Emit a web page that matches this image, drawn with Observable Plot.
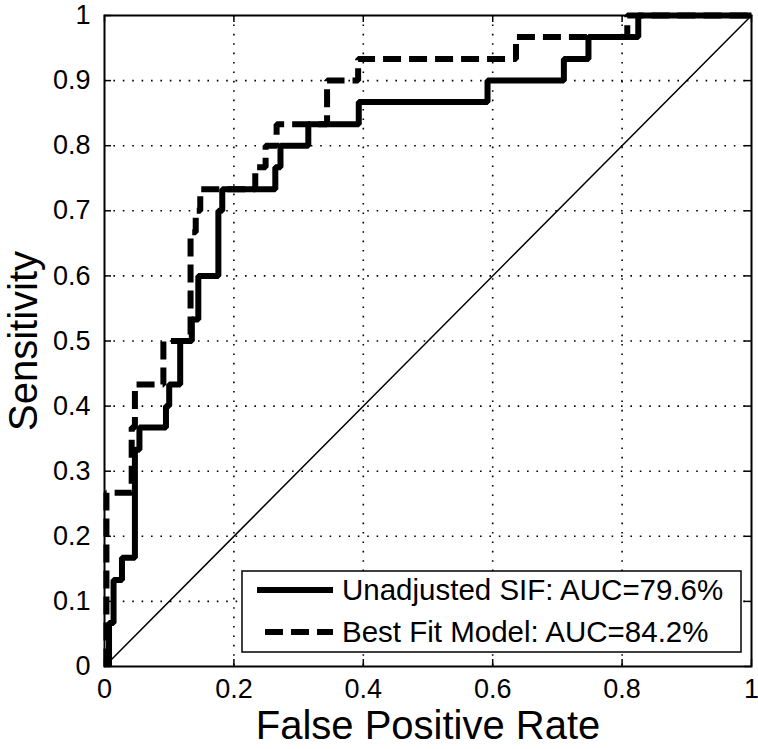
<!DOCTYPE html>
<html><head><meta charset="utf-8">
<script src="https://cdn.jsdelivr.net/npm/d3@7"></script>
<script src="https://cdn.jsdelivr.net/npm/@observablehq/plot@0.6"></script>
<style>
body{margin:0;background:#fff}
svg text{font-family:"Liberation Sans",Arial,sans-serif}
</style>
</head><body><div id="chart"></div>
<script>
// ---- data ----
const xTicks = [0, 0.2, 0.4, 0.6, 0.8, 1];
const xTickLabels = ["0", "0.2", "0.4", "0.6", "0.8", "1"];
const yTicks = [0, 0.1, 0.2, 0.3, 0.4, 0.5, 0.6, 0.7, 0.8, 0.9, 1];
const yTickLabels = ["0", "0.1", "0.2", "0.3", "0.4", "0.5", "0.6", "0.7", "0.8", "0.9", "1"];
const xGrid = [0.2, 0.4, 0.6, 0.8];
const yGrid = [0.1, 0.2, 0.3, 0.4, 0.5, 0.6, 0.7, 0.8, 0.9];

const unadjustedFPR = [0.007, 0.007, 0.014, 0.014, 0.027, 0.027, 0.047, 0.047, 0.054, 0.054, 0.095, 0.095, 0.1, 0.1, 0.117, 0.117, 0.135, 0.135, 0.145, 0.145, 0.176, 0.176, 0.182, 0.182, 0.264, 0.264, 0.272, 0.272, 0.315, 0.315, 0.393, 0.393, 0.592, 0.592, 0.71, 0.71, 0.748, 0.748, 0.825, 0.825, 1];
const unadjustedTPR = [0, 0.067, 0.067, 0.133, 0.133, 0.167, 0.167, 0.333, 0.333, 0.367, 0.367, 0.4, 0.4, 0.433, 0.433, 0.5, 0.5, 0.533, 0.533, 0.6, 0.6, 0.7, 0.7, 0.733, 0.733, 0.767, 0.767, 0.8, 0.8, 0.833, 0.833, 0.867, 0.867, 0.9, 0.9, 0.933, 0.933, 0.967, 0.967, 1, 1];

const bestFitFPR = [0.003, 0.003, 0.042, 0.042, 0.047, 0.047, 0.091, 0.091, 0.133, 0.133, 0.141, 0.141, 0.148, 0.148, 0.233, 0.233, 0.249, 0.249, 0.266, 0.266, 0.344, 0.344, 0.392, 0.392, 0.636, 0.636, 0.808, 0.808, 1];
const bestFitTPR = [0, 0.267, 0.267, 0.367, 0.367, 0.433, 0.433, 0.5, 0.5, 0.667, 0.667, 0.7, 0.7, 0.733, 0.733, 0.767, 0.767, 0.8, 0.8, 0.833, 0.833, 0.9, 0.9, 0.933, 0.933, 0.967, 0.967, 1, 1];

const chanceFPR = [0, 1];
const chanceTPR = [0, 1];

const seriesLabels = ["Unadjusted SIF: AUC=79.6%", "Best Fit Model: AUC=84.2%"];
const xLabel = "False Positive Rate";
const yLabel = "Sensitivity";

// ---- layout ----
const W = 758, H = 749;
const M = {top: 15, right: 7, bottom: 83, left: 104};
const PW = W - M.left - M.right, PH = H - M.top - M.bottom;
const DASH = "18,8";

const toPts = (xs, ys) => xs.map((x, i) => ({x, y: ys[i]}));
const unadj = toPts(unadjustedFPR, unadjustedTPR);
const best = toPts(bestFitFPR, bestFitTPR);
const chance = toPts(chanceFPR, chanceTPR);

const fmtX = d => xTickLabels[xTicks.indexOf(d)];
const fmtY = d => yTickLabels[yTicks.indexOf(d)];

const plot = Plot.plot({
  width: W, height: H,
  marginTop: M.top, marginRight: M.right, marginBottom: M.bottom, marginLeft: M.left,
  style: {fontFamily: '"Liberation Sans", Arial, sans-serif', background: "#fff", color: "#000"},
  x: {domain: [0, 1]},
  y: {domain: [0, 1]},
  marks: [
    Plot.ruleX(xGrid, {x: d => d, stroke: "#000", strokeWidth: 1.6, strokeDasharray: "1.6,7.8"}),
    Plot.ruleY(yGrid, {y: d => d, stroke: "#000", strokeWidth: 1.6, strokeDasharray: "1.6,7.8"}),
    Plot.line(chance, {x: "x", y: "y", stroke: "#000", strokeWidth: 1.5}),
    Plot.line(best, {x: "x", y: "y", stroke: "#000", strokeWidth: 6, strokeDasharray: DASH, strokeLinejoin: "miter", strokeLinecap: "butt"}),
    Plot.line(unadj, {x: "x", y: "y", stroke: "#000", strokeWidth: 6, strokeLinejoin: "miter", strokeLinecap: "butt"}),
    // inward ticks on all four sides
    Plot.tickX(xTicks, {x: d => d, stroke: "#000", strokeWidth: 1.5, insetTop: PH - 7}),
    Plot.tickX(xTicks, {x: d => d, stroke: "#000", strokeWidth: 1.5, insetBottom: PH - 7}),
    Plot.tickY(yTicks, {y: d => d, stroke: "#000", strokeWidth: 1.5, insetRight: PW - 7}),
    Plot.tickY(yTicks, {y: d => d, stroke: "#000", strokeWidth: 1.5, insetLeft: PW - 7}),
    Plot.frame({stroke: "#000", strokeWidth: 2}),
    Plot.axisX({ticks: xTicks, tickFormat: fmtX, tickSize: 0, tickPadding: 12, fontSize: 27, label: null}),
    Plot.axisY({ticks: yTicks, tickFormat: fmtY, tickSize: 0, tickPadding: 14, fontSize: 27, label: null}),
    Plot.text([xLabel], {text: d => d, frameAnchor: "bottom", textAnchor: "middle", lineAnchor: "middle", dy: 60, fontSize: 40, fill: "#000"}),
    Plot.text([yLabel], {text: d => d, frameAnchor: "left", textAnchor: "middle", lineAnchor: "middle", dx: -80, rotate: -90, fontSize: 40, fill: "#000"})
  ]
});
document.getElementById("chart").appendChild(plot);

// ---- legend (inside the axes, lower right) ----
const svg = d3.select(plot);
const L = {x: 242, y: 571, w: 499, h: 81};
const g = svg.append("g");
g.append("rect").attr("x", L.x).attr("y", L.y).attr("width", L.w).attr("height", L.h)
  .attr("fill", "#fff").attr("stroke", "#000").attr("stroke-width", 1.5);
const rows = [{label: seriesLabels[0], dash: null, x1: 257}, {label: seriesLabels[1], dash: DASH, x1: 265}];
rows.forEach((r, i) => {
  const cy = L.y + 19 + i * 42;
  g.append("line").attr("x1", r.x1).attr("x2", 333).attr("y1", cy).attr("y2", cy)
    .attr("stroke", "#000").attr("stroke-width", 6).attr("stroke-dasharray", r.dash);
  g.append("text").attr("x", 342).attr("y", cy).attr("dy", "0.35em")
    .attr("text-anchor", "start").attr("font-size", 29.5).attr("fill", "#000").text(r.label);
});
</script>
</body></html>
